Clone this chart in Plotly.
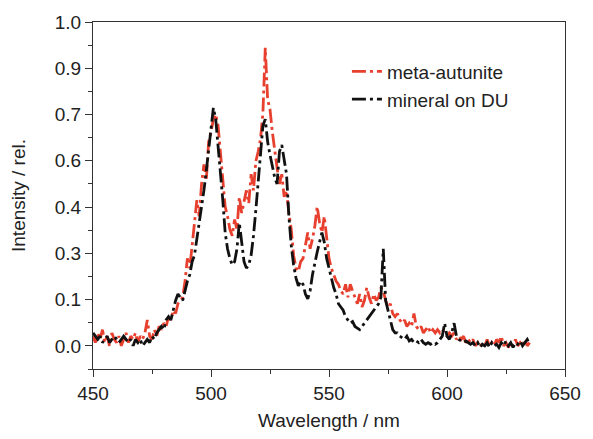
import plotly.graph_objects as go

# Wavelength grid (nm)
wavelength = list(range(450, 636))

# Luminescence intensity, meta-autunite reference
meta_autunite = [
    0.03, 0.01, 0.04, 0.02, 0.05, 0.01, 0.03, 0.00, 0.04, 0.02,   # 450-459
    0.01, 0.03, 0.00, 0.02, 0.04, 0.01, 0.03, 0.02, 0.04, 0.01,   # 460-469
    0.03, 0.02, 0.04, 0.08, 0.03, 0.02, 0.05, 0.03, 0.06, 0.05,   # 470-479
    0.07, 0.06, 0.09, 0.08, 0.11, 0.10, 0.13, 0.14, 0.15, 0.20,   # 480-489
    0.27, 0.24, 0.31, 0.38, 0.45, 0.40, 0.50, 0.56, 0.51, 0.63,   # 490-499
    0.66, 0.70, 0.715, 0.68, 0.60, 0.52, 0.43, 0.40, 0.36, 0.34,  # 500-509
    0.39, 0.36, 0.46, 0.41, 0.45, 0.48, 0.44, 0.53, 0.48, 0.57,   # 510-519
    0.60, 0.64, 0.72, 0.92, 0.76, 0.73, 0.66, 0.60, 0.55, 0.50,   # 520-529
    0.53, 0.46, 0.48, 0.41, 0.36, 0.28, 0.24, 0.23, 0.26, 0.27,   # 530-539
    0.31, 0.35, 0.30, 0.33, 0.37, 0.43, 0.38, 0.35, 0.40, 0.33,   # 540-549
    0.27, 0.24, 0.22, 0.20, 0.19, 0.17, 0.16, 0.19, 0.15, 0.19,   # 550-559
    0.17, 0.15, 0.13, 0.16, 0.12, 0.14, 0.18, 0.15, 0.13, 0.16,   # 560-569
    0.14, 0.15, 0.18, 0.17, 0.14, 0.12, 0.13, 0.10, 0.09, 0.10,   # 570-579
    0.08, 0.07, 0.08, 0.06, 0.07, 0.06, 0.10, 0.06, 0.05, 0.06,   # 580-589
    0.04, 0.05, 0.06, 0.04, 0.05, 0.04, 0.05, 0.04, 0.05, 0.04,   # 590-599
    0.03, 0.04, 0.03, 0.04, 0.02, 0.03, 0.02, 0.03, 0.01, 0.02,   # 600-609
    0.01, 0.02, 0.00, 0.01, -0.005, 0.01, 0.00, 0.02, 0.00, 0.01, # 610-619
    0.00, 0.02, 0.01, 0.03, 0.00, 0.01, -0.005, 0.01, 0.00, 0.02, # 620-629
    0.00, 0.01, 0.00, 0.02, 0.00, 0.01,                           # 630-635
]

# Luminescence intensity, mineral grown on depleted uranium
mineral_on_du = [
    0.04, 0.03, 0.02, 0.03, 0.01, 0.02, 0.03, 0.01, 0.02, 0.03,   # 450-459
    0.02, 0.01, 0.02, 0.03, 0.02, 0.01, 0.02, 0.00, 0.02, 0.01,   # 460-469
    0.02, 0.00, 0.01, 0.02, 0.01, 0.03, 0.02, 0.04, 0.05, 0.06,   # 470-479
    0.05, 0.08, 0.09, 0.08, 0.11, 0.14, 0.16, 0.15, 0.14, 0.17,   # 480-489
    0.20, 0.22, 0.26, 0.28, 0.33, 0.37, 0.42, 0.48, 0.54, 0.60,   # 490-499
    0.67, 0.735, 0.70, 0.62, 0.55, 0.45, 0.35, 0.30, 0.27, 0.25,  # 500-509
    0.26, 0.30, 0.38, 0.31, 0.26, 0.24, 0.25, 0.28, 0.34, 0.42,   # 510-519
    0.51, 0.60, 0.68, 0.70, 0.63, 0.59, 0.55, 0.52, 0.50, 0.60,   # 520-529
    0.62, 0.58, 0.53, 0.40, 0.31, 0.25, 0.21, 0.185, 0.20, 0.19,  # 530-539
    0.16, 0.145, 0.17, 0.22, 0.26, 0.29, 0.32, 0.35, 0.32, 0.27,  # 540-549
    0.24, 0.21, 0.18, 0.16, 0.13, 0.12, 0.11, 0.09, 0.08, 0.07,   # 550-559
    0.075, 0.06, 0.055, 0.05, 0.06, 0.07, 0.08, 0.09, 0.10, 0.11, # 560-569
    0.12, 0.13, 0.15, 0.30, 0.14, 0.11, 0.08, 0.05, 0.04, 0.04,   # 570-579
    0.03, 0.025, 0.02, 0.03, 0.015, 0.02, 0.01, 0.015, 0.01, 0.02, # 580-589
    0.01, 0.005, 0.01, 0.005, 0.01, 0.005, 0.01, 0.02, 0.03, 0.07, # 590-599
    0.03, 0.02, 0.04, 0.07, 0.03, 0.02, 0.015, 0.01, 0.015, 0.01, # 600-609
    0.005, 0.01, 0.00, 0.01, -0.005, 0.005, 0.00, 0.01, -0.005, 0.01, # 610-619
    0.00, 0.005, -0.005, 0.01, 0.00, 0.015, 0.00, 0.01, -0.005, 0.01, # 620-629
    0.005, 0.015, 0.00, 0.01, 0.02, 0.005,                        # 630-635
]

# The intensity axis is scaled in sevenths, labelled to one decimal
y_tick_labels = ["0.0", "0.1", "0.3", "0.4", "0.6", "0.7", "0.9", "1.0"]
y_tick_vals = [k / 7 for k in range(len(y_tick_labels))]
y_minor_vals = [(2 * k - 1) / 14 for k in range(len(y_tick_labels))]

FONT = "Liberation Sans, Arial, sans-serif"
TEXT = "#222222"
AXIS = "#333333"
DASH = "14px,4px,3px,4px"

fig = go.Figure()
fig.add_trace(go.Scatter(
    x=wavelength, y=meta_autunite, mode="lines", name="meta-autunite",
    line=dict(color="#e8402f", width=2.8, dash=DASH),
))
fig.add_trace(go.Scatter(
    x=wavelength, y=mineral_on_du, mode="lines", name="mineral on DU",
    line=dict(color="#111111", width=2.8, dash=DASH),
))

axis_common = dict(
    showline=True, linecolor=AXIS, linewidth=1.2, mirror=True,
    ticks="outside", ticklen=7, tickwidth=1.2, tickcolor=AXIS,
    showgrid=False, zeroline=False,
    tickfont=dict(family=FONT, size=19, color=TEXT),
)

fig.update_xaxes(
    range=[450, 650], tickmode="linear", tick0=450, dtick=50,
    minor=dict(ticks="outside", ticklen=4, tickwidth=1.2, tickcolor=AXIS,
               tick0=450, dtick=25),
    title=dict(text="Wavelength / nm", font=dict(family=FONT, size=19, color=TEXT),
               standoff=10),
    **axis_common,
)
fig.update_yaxes(
    range=[-1 / 14, 1.0], tickmode="array", tickvals=y_tick_vals, ticktext=y_tick_labels,
    minor=dict(ticks="outside", ticklen=4, tickwidth=1.2, tickcolor=AXIS,
               tickmode="array", tickvals=y_minor_vals),
    title=dict(text="Intensity / rel.", font=dict(family=FONT, size=19, color=TEXT),
               standoff=24),
    **axis_common,
)

fig.update_layout(
    width=593, height=439,
    margin=dict(l=93, r=21, t=20, b=68),
    paper_bgcolor="white", plot_bgcolor="white",
    showlegend=True,
    legend=dict(
        x=0.538, y=0.912, xanchor="left", yanchor="top",
        bgcolor="rgba(0,0,0,0)", borderwidth=0,
        font=dict(family=FONT, size=19, color=TEXT),
        tracegroupgap=0,
    ),
)

fig.write_html("out.html")
